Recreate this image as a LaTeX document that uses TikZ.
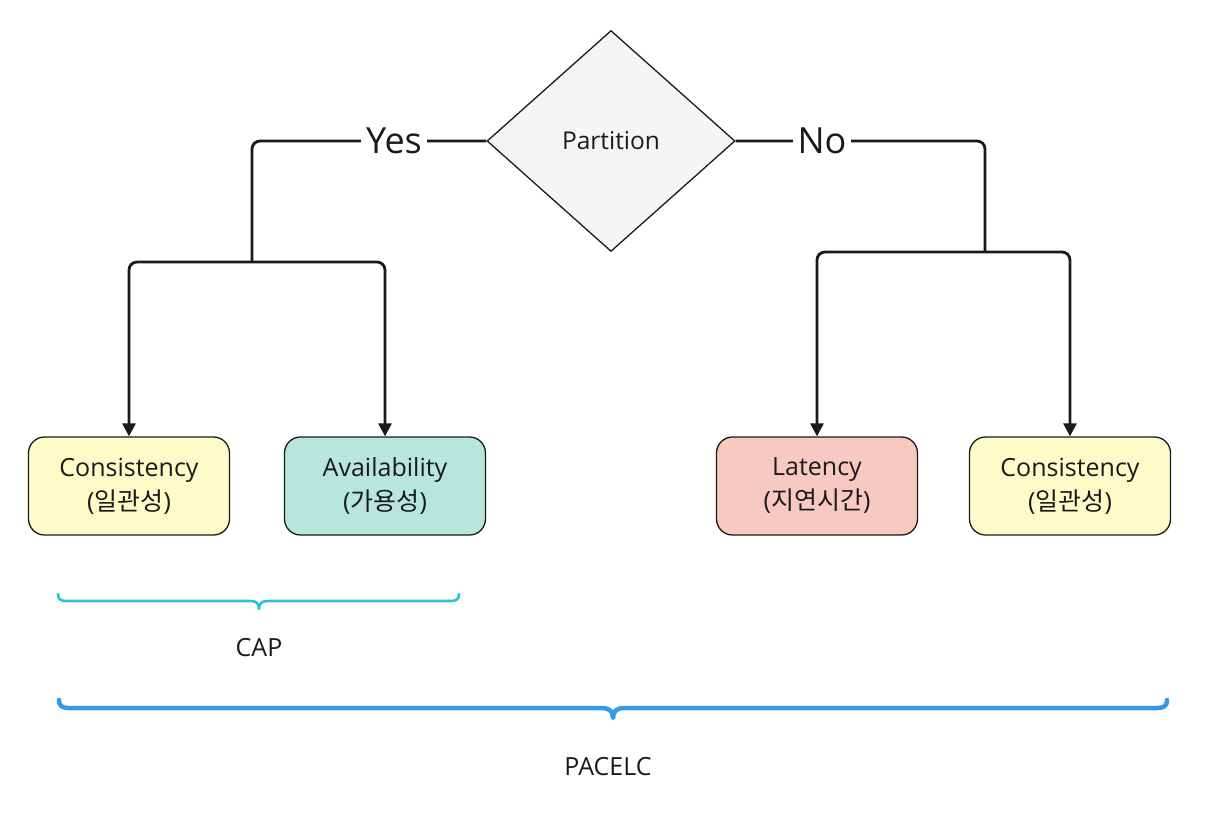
\documentclass[tikz,border=0pt]{standalone}
\usepackage{fontspec}
\setmainfont{Open Sans}
\newfontfamily\cjk{Noto Sans CJK KR}
\usetikzlibrary{shapes.geometric,arrows.meta}
\definecolor{ink}{HTML}{1A1A1A}
\definecolor{yel}{HTML}{FEFBC9}
\definecolor{teal}{HTML}{B9E6DC}
\definecolor{pink}{HTML}{F8C9C0}
\definecolor{grayf}{HTML}{F5F5F5}
\definecolor{capc}{HTML}{29C4CF}
\definecolor{pacc}{HTML}{3499E6}
\begin{document}
\begin{tikzpicture}[x=1pt,y=-1pt,
  box/.style={draw=ink, line width=1.3pt, rounded corners=16pt, minimum width=201pt, minimum height=98pt,
    align=center, text=ink, font=\fontsize{25}{34}\selectfont},
  conn/.style={draw=ink, line width=2.8pt, rounded corners=8pt},
  arr/.style={-{Triangle[width=13pt,length=13pt]}},
  lbl/.style={fill=white, text=ink, inner sep=5pt, font=\fontsize{36}{40}\selectfont},
  brace/.style={line cap=round, line join=round}]
\useasboundingbox (0,0) rectangle (1216,822);

\node[diamond, draw=ink, line width=1.3pt, fill=grayf, minimum width=248pt, minimum height=221pt,
  inner sep=0pt, text=ink, font=\fontsize{24.5}{28}\selectfont] (part) at (611,141) {Partition};

\node[box, fill=yel]  (c1) at (129,486) {Consistency\\(\cjk 일관성\rmfamily)};
\node[box, fill=teal] (a1) at (385,486) {Availability\\(\cjk 가용성\rmfamily)};
\node[box, fill=pink] (l1) at (817,486) {Latency\\(\cjk 지연시간\rmfamily)};
\node[box, fill=yel]  (c2) at (1070,486) {Consistency\\(\cjk 일관성\rmfamily)};

\coordinate (ly) at (252,262);
\coordinate (ry) at (985,252);

\draw[conn] (part.west) -| (ly);
\draw[conn, arr] (ly) -| (c1.north);
\draw[conn, arr] (ly) -| (a1.north);
\draw[conn] (part.east) -| (ry);
\draw[conn, arr] (ry) -| (l1.north);
\draw[conn, arr] (ry) -| (c2.north);

\node[lbl] (yes) at (394,141) {Yes};
\node[lbl] (no) at (822,141) {No};

% CAP brace
\draw[capc, line width=2.6pt, brace]
  (58,594) .. controls (58,599) and (60,601) .. (67,601) -- (250,601)
  .. controls (256,601) and (259,603) .. (259,609)
  .. controls (259,603) and (262,601) .. (268,601) -- (450,601)
  .. controls (457,601) and (459,599) .. (459,594);
\node[text=ink, font=\fontsize{25}{28}\selectfont] (cap) at (259,648) {CAP};

% PACELC brace
\draw[pacc, line width=4.5pt, brace]
  (59,700) .. controls (59,705) and (61,708) .. (69,708) -- (602,708)
  .. controls (609,708) and (613,711) .. (613,718)
  .. controls (613,711) and (617,708) .. (624,708) -- (1157,708)
  .. controls (1165,708) and (1167,705) .. (1167,700);
\node[text=ink, font=\fontsize{25}{28}\selectfont] (pacelc) at (608,767) {PACELC};
\end{tikzpicture}
\end{document}
